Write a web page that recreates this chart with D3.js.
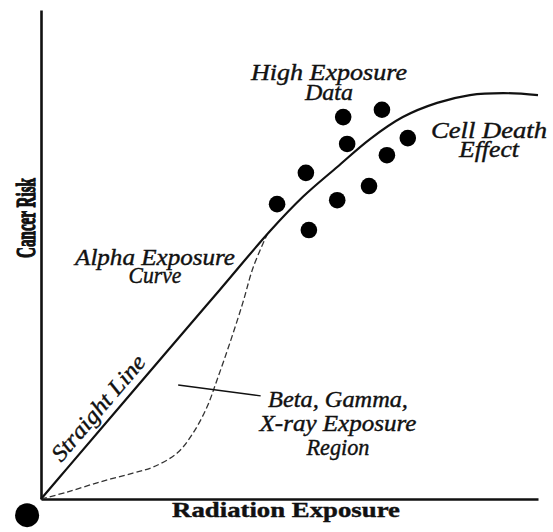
<!DOCTYPE html>
<html>
<head>
<meta charset="utf-8">
<script src="https://cdn.jsdelivr.net/npm/d3@7"></script>
<style>
  body { margin: 0; background: #fff; }
  text { fill: #111; }
  .lbl { font-family: "Liberation Serif", "Times New Roman", serif; font-style: italic; font-size: 23px; stroke: #111; stroke-width: 0.4px; }
  .title { font-family: "Liberation Serif", "Times New Roman", serif; font-weight: bold; stroke: #111; stroke-width: 0.4px; }
</style>
</head>
<body>
<div id="chart"></div>
<script>
// Alpha exposure curve (solid): radiation exposure vs cancer risk
const alphaExposure = [0, 5, 25, 36, 46, 52.7, 59.6, 66.2, 72.8, 79.7, 86.3, 93.0, 100];
const alphaRisk     = [0, 5.95, 29.75, 42.8, 54.7, 61.8, 67.9, 73.6, 78.1, 81.0, 82.6, 83.0, 82.6];

// Beta / gamma / x-ray curve (dashed)
const betaExposure = [0, 5.2, 11.9, 18.5, 22.5, 27.4, 30.6, 33.4, 35.4, 38.0, 40.6, 42.7, 45.5];
const betaRisk     = [0, 1.4, 3.5, 5.3, 6.5, 9.4, 13.5, 18.8, 24.3, 31.9, 40.1, 47.4, 54.1];

// High exposure data points
const highExposure = [47.5, 53.3, 53.9, 59.6, 60.8, 61.6, 66.0, 68.6, 69.6, 73.8];
const highRisk     = [60.3, 66.7, 55.0, 61.1, 78.1, 72.6, 64.0, 79.6, 70.3, 73.8];

// big dot below the origin
const cornerExposure = [-2.8];
const cornerRisk     = [-3.3];

// pointer from the region label into the gap between curves
const pointerExposure = [27.6, 44.2];
const pointerRisk     = [23.3, 21.1];

const highLabel = ['High Exposure', 'Data'];
const deathLabel = ['Cell Death', 'Effect'];
const alphaLabel = ['Alpha Exposure', 'Curve'];
const betaLabel = ['Beta, Gamma,', 'X-ray Exposure', 'Region'];
const lineLabel = 'Straight Line';
const xTitle = 'Radiation Exposure';
const yTitle = 'Cancer Risk';

const width = 553, height = 532;

const svg = d3.select('#chart')
  .append('svg')
  .attr('width', width)
  .attr('height', height);

const x = d3.scaleLinear().domain([0, 100]).range([41, 538]);
const y = d3.scaleLinear().domain([0, 100]).range([499, 10]);

// axes: plain lines, no ticks
svg.append('g')
  .attr('transform', `translate(0,${y(0)})`)
  .call(d3.axisBottom(x).tickValues([]).tickSizeOuter(0))
  .select('.domain').attr('stroke', '#111').attr('stroke-width', 2.6);

svg.append('g')
  .attr('transform', `translate(${x(0)},0)`)
  .call(d3.axisLeft(y).tickValues([]).tickSizeOuter(0))
  .select('.domain').attr('stroke', '#111').attr('stroke-width', 2.6);

const line = d3.line()
  .x(d => x(d[0]))
  .y(d => y(d[1]))
  .curve(d3.curveCatmullRom.alpha(0.5));

// dashed beta curve
svg.append('path')
  .datum(d3.zip(betaExposure, betaRisk))
  .attr('fill', 'none')
  .attr('stroke', '#333')
  .attr('stroke-width', 1.3)
  .attr('stroke-dasharray', '6,3')
  .attr('d', line);

// solid alpha curve
svg.append('path')
  .datum(d3.zip(alphaExposure, alphaRisk))
  .attr('fill', 'none')
  .attr('stroke', '#111')
  .attr('stroke-width', 2.2)
  .attr('d', line);

// pointer
svg.append('path')
  .datum(d3.zip(pointerExposure, pointerRisk))
  .attr('fill', 'none')
  .attr('stroke', '#111')
  .attr('stroke-width', 1.4)
  .attr('d', d3.line().x(d => x(d[0])).y(d => y(d[1])));

// data points
svg.selectAll('.dot')
  .data(d3.zip(highExposure, highRisk))
  .enter()
  .append('circle')
  .attr('class', 'dot')
  .attr('cx', d => x(d[0]))
  .attr('cy', d => y(d[1]))
  .attr('r', 8.3)
  .attr('fill', '#000');

svg.selectAll('.corner')
  .data(d3.zip(cornerExposure, cornerRisk))
  .enter()
  .append('circle')
  .attr('class', 'corner')
  .attr('cx', d => x(d[0]))
  .attr('cy', d => y(d[1]))
  .attr('r', 12)
  .attr('fill', '#000');

// text stretched along its baseline to a given width
const fitText = (cls, str, pre, w, size) => {
  const t = svg.append('text')
    .attr('class', cls)
    .attr('text-anchor', 'middle')
    .text(str);
  if (size) t.style('font-size', size);
  const k = w / t.node().getComputedTextLength();
  t.attr('transform', `${pre} scale(${k},1)`);
  return t;
};

// multi-line italic labels: centre x, first baseline, line gap, widths
const addLabel = (lines, cx, by, gap, widths) => {
  lines.forEach((s, i) => {
    fitText('lbl', s, `translate(${cx},${by + i * gap})`, widths[i]);
  });
};

addLabel(highLabel, 329, 80, 20, [156, 48]);
addLabel(deathLabel, 489, 138, 19, [116, 60]);
addLabel(alphaLabel, 155, 265, 18, [160, 53]);
addLabel(betaLabel, 338, 407, 24, [140, 157, 63]);

// label along the straight part of the curve
const ang = Math.atan2(y(alphaRisk[2]) - y(0), x(alphaExposure[2]) - x(0)) * 180 / Math.PI;
const px = x(13.9), py = y(13.9 * alphaRisk[2] / alphaExposure[2]);
fitText('lbl', lineLabel, `translate(${px},${py}) rotate(${ang}) translate(0,-8)`, 132);

// axis titles
fitText('title', xTitle, 'translate(286,517)', 228, '21px');
fitText('title', yTitle, 'translate(35,218) rotate(-90)', 80, '28px')
  .style('stroke-width', '1.3px');
</script>
</body>
</html>
